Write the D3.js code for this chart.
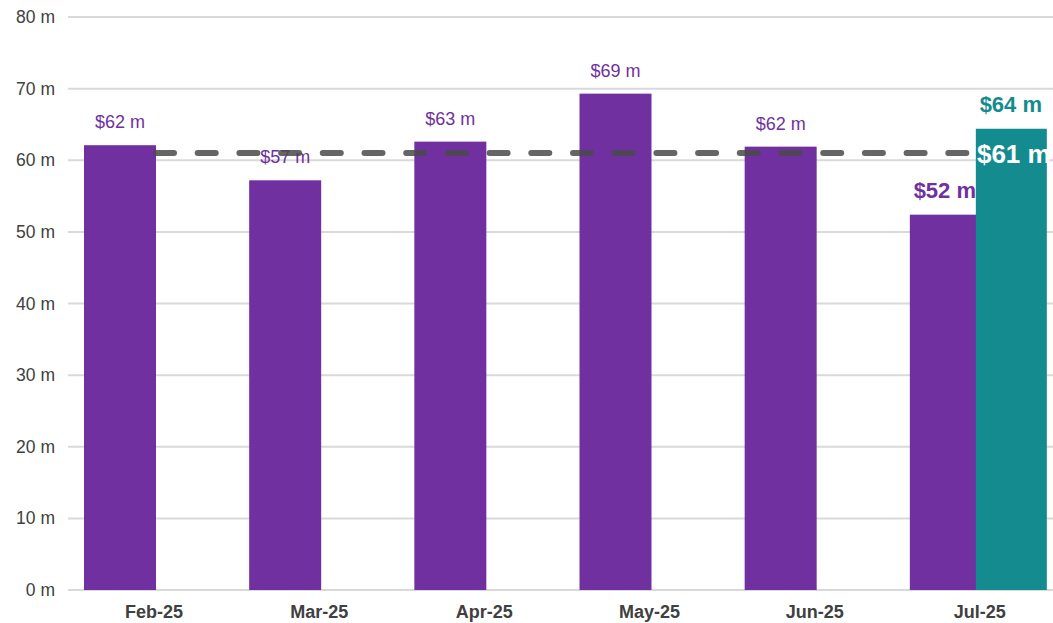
<!DOCTYPE html>
<html>
<head>
    <meta charset="utf-8" />
    <script src="https://d3js.org/d3.v7.min.js"></script>
    <title></title>
    <style>
        body { margin: 0; background: #fff; }
        text { font-family: Arial, "Liberation Sans", sans-serif; }
    </style>
</head>
<body>
    <svg id="chart"></svg>
    <script type="text/javascript">
        // monthly actuals, plus one forecast bar and the average line
        var months = ["Feb-25", "Mar-25", "Apr-25", "May-25", "Jun-25", "Jul-25"];
        var actual = [62.1, 57.2, 62.6, 69.3, 61.9, 52.4];
        var forecastMonth = "Jul-25";
        var forecast = 64.4;
        var average = 61.0;
        var yTicks = [0, 10, 20, 30, 40, 50, 60, 70, 80];

        var width = 1053, height = 623;
        var purple = "#7030a0", teal = "#138b8f";
        var barW = 72;

        var svg = d3.select("#chart").attr("width", width).attr("height", height);

        var x = d3.scaleBand().domain(months).range([84, 1075]).padding(0);
        var y = d3.scaleLinear().domain([0, 80]).range([590, 17]);

        var money = function (v) { return "$" + Math.round(v) + " m"; };

        // gridlines + y labels
        var yAxis = d3.axisLeft(y).tickValues(yTicks).tickSize(0).tickPadding(0)
            .tickFormat(function (d) { return d + " m"; });
        var gy = svg.append("g").attr("transform", "translate(55,0)").call(yAxis);
        gy.select(".domain").remove();
        gy.selectAll("text").attr("font-size", 17.5).attr("fill", "#404040")
            .attr("font-family", "Arial, 'Liberation Sans', sans-serif");
        svg.append("g").selectAll("line").data(yTicks).enter().append("line")
            .attr("x1", 68).attr("x2", width)
            .attr("y1", function (d) { return y(d); }).attr("y2", function (d) { return y(d); })
            .attr("stroke", "#d9d9d9").attr("stroke-width", 2);

        // purple bars
        svg.append("g").selectAll("rect").data(actual).enter().append("rect")
            .attr("x", function (d, i) { return x(months[i]); })
            .attr("y", function (d) { return y(d); })
            .attr("width", barW)
            .attr("height", function (d) { return y(0) - y(d); })
            .attr("fill", purple);

        // purple labels (last one bigger and bold)
        svg.append("g").selectAll("text").data(actual).enter().append("text")
            .attr("x", function (d, i) { return x(months[i]) + barW / 2 - (i == 5 ? 1 : 0); })
            .attr("y", function (d) { return y(d) - 17; })
            .attr("text-anchor", "middle")
            .attr("font-size", function (d, i) { return i == 5 ? 22 : 18; })
            .attr("font-weight", function (d, i) { return i == 5 ? "bold" : "normal"; })
            .attr("fill", purple)
            .text(function (d) { return money(d); });

        // average dashed line
        svg.append("line")
            .attr("x1", 156).attr("x2", x(forecastMonth) + 66)
            .attr("y1", y(average)).attr("y2", y(average))
            .attr("stroke", "#4a4a4a").attr("stroke-opacity", 0.85)
            .attr("stroke-width", 6).attr("stroke-linecap", "round")
            .attr("stroke-dasharray", "18,23.7");

        // forecast bar
        var fx = x(forecastMonth) + 66;
        svg.append("rect")
            .attr("x", fx).attr("y", y(forecast))
            .attr("width", 71).attr("height", y(0) - y(forecast))
            .attr("fill", teal);
        svg.append("text")
            .attr("x", fx + 35).attr("y", y(forecast) - 17)
            .attr("text-anchor", "middle").attr("font-size", 22).attr("font-weight", "bold")
            .attr("fill", teal).text(money(forecast));
        svg.append("text")
            .attr("x", fx + 38).attr("y", y(average) + 10)
            .attr("text-anchor", "middle").attr("font-size", 26).attr("font-weight", "bold")
            .attr("fill", "#fff").text(money(average));

        // x labels
        svg.append("g").selectAll("text").data(months).enter().append("text")
            .attr("x", function (d) { return x(d) + 70; })
            .attr("y", 618)
            .attr("text-anchor", "middle").attr("font-size", 18).attr("font-weight", "bold")
            .attr("fill", "#404040")
            .text(function (d) { return d; });
    </script>
</body>
</html>
